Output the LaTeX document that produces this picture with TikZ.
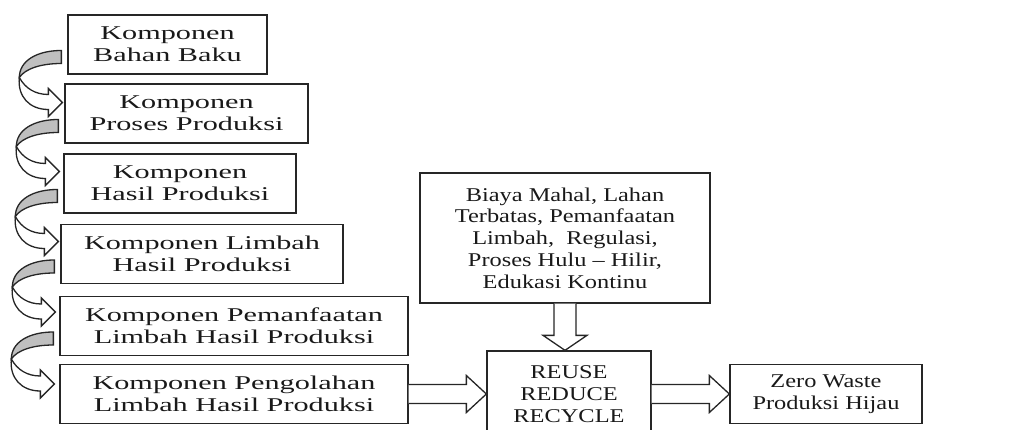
\documentclass[tikz,border=0pt]{standalone}
\usepackage{fontspec}
\setmainfont{Liberation Serif}[FakeStretch=1.55]
\newfontfamily\narrowserif{Liberation Serif}[Ligatures=TeX, FakeStretch=1.25]
\usetikzlibrary{calc}

\tikzset{
  hollow/.style={draw=black!85, fill=white, line width=1.3pt, line join=miter},
  band/.style={draw=black!85, fill=black!25, line width=1.3pt},
  narrow/.style={font=\narrowserif\fontsize{19.5}{21.8}\selectfont},
  bendarrow/.pic={
    \draw[band] (0,0) .. controls (-24,0) and (-42,10) .. (-42,27)
                .. controls (-36,18) and (-20,13) .. (0,13) -- cycle;
    \draw[hollow] (-42,27) .. controls (-36,38) and (-26,44) .. (-13,44)
                -- (-13,38) -- (1,52) -- (-13,66) -- (-13,59)
                .. controls (-32,59) and (-44,46) .. (-42,27) -- cycle;
  }
}

\begin{document}
\begin{tikzpicture}[x=1pt, y=-1pt]

        \useasboundingbox (0,0) rectangle (1033,430);

        \begin{scope}[every node/.style={draw=black!85, line width=1.3pt, align=center,
            font=\fontsize{19.5}{21.8}\selectfont, text=black!90, inner sep=2pt, minimum height=59pt}]
          \node[minimum width=199pt] (b1) at (167.5,44.5) {Komponen\\Bahan Baku};
          \node[minimum width=243pt] (b2) at (186.5,113.5) {Komponen\\Proses Produksi};
          \node[minimum width=232pt] (b3) at (180,183.5) {Komponen\\Hasil Produksi};
          \node[minimum width=282pt] (b4) at (202,254) {Komponen Limbah\\Hasil Produksi};
          \node[minimum width=348pt] (b5) at (234,326) {Komponen Pemanfaatan\\Limbah Hasil Produksi};
          \node[minimum width=348pt] (b6) at (234,394) {Komponen Pengolahan\\Limbah Hasil Produksi};
          \node[narrow, minimum width=290pt, minimum height=130pt] (kendala) at (565,238)
            {Biaya Mahal, Lahan\\Terbatas, Pemanfaatan\\Limbah,\ \ Regulasi,\\Proses Hulu -- Hilir,\\Edukasi Kontinu};
          \node[narrow, minimum width=164pt, minimum height=86pt] (reuse) at (569,394) {REUSE\\REDUCE\\RECYCLE};
          \node[narrow, minimum width=192pt] (zero) at (826,394) {Zero Waste\\Produksi Hijau};
        \end{scope}

        \foreach \i in {1,...,5}
          \pic at ($(b\i.west)+(-6,6)$) {bendarrow};

        \coordinate (t1) at (kendala.south |- reuse.north);
        \draw[hollow] ($(kendala.south)+(-11,0)$) -- ($(t1)+(-11,-15)$) -- ($(t1)+(-22,-15)$)
          -- (t1) -- ($(t1)+(22,-15)$) -- ($(t1)+(11,-15)$) -- ($(kendala.south)+(11,0)$);

        \draw[hollow] ($(b6.east)+(0,-9.5)$) -- ($(reuse.west)+(-20,-9.5)$) -- ($(reuse.west)+(-20,-18.5)$)
          -- (reuse.west) -- ($(reuse.west)+(-20,18.5)$) -- ($(reuse.west)+(-20,9.5)$) -- ($(b6.east)+(0,9.5)$);

        \draw[hollow] ($(reuse.east)+(0,-9.5)$) -- ($(zero.west)+(-20,-9.5)$) -- ($(zero.west)+(-20,-18.5)$)
          -- (zero.west) -- ($(zero.west)+(-20,18.5)$) -- ($(zero.west)+(-20,9.5)$) -- ($(reuse.east)+(0,9.5)$);

      \end{tikzpicture}
\end{document}
